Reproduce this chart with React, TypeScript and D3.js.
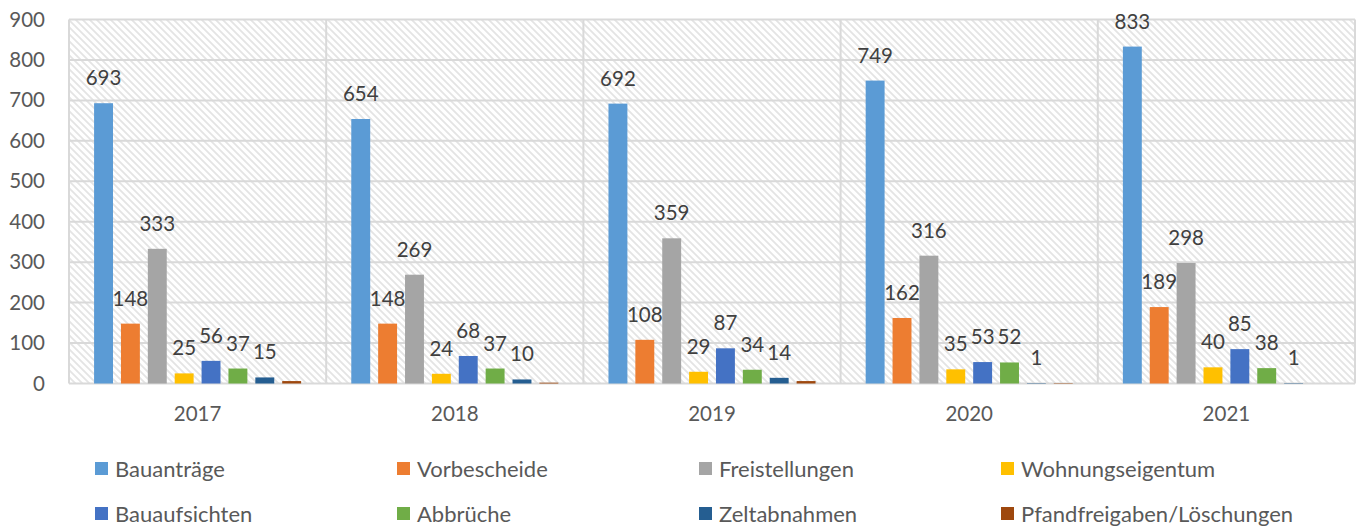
import React from "react";
import * as d3 from "d3";

const years = ["2017", "2018", "2019", "2020", "2021"];
const seriesNames = [
  "Bauanträge",
  "Vorbescheide",
  "Freistellungen",
  "Wohnungseigentum",
  "Bauaufsichten",
  "Abbrüche",
  "Zeltabnahmen",
  "Pfandfreigaben/Löschungen",
];
const bauantraege = [693, 654, 692, 749, 833];
const vorbescheide = [148, 148, 108, 162, 189];
const freistellungen = [333, 269, 359, 316, 298];
const wohnungseigentum = [25, 24, 29, 35, 40];
const bauaufsichten = [56, 68, 87, 53, 85];
const abbrueche = [37, 37, 34, 52, 38];
const zeltabnahmen = [15, 10, 14, 1, 1];
const pfandfreigaben = [6, 2, 6, 1, 0];
const yTicks = [0, 100, 200, 300, 400, 500, 600, 700, 800, 900];

const seriesValues = [
  bauantraege,
  vorbescheide,
  freistellungen,
  wohnungseigentum,
  bauaufsichten,
  abbrueche,
  zeltabnahmen,
  pfandfreigaben,
];
const showLabels = [true, true, true, true, true, true, true, false];
const colors = [
  "#5B9BD5",
  "#ED7D31",
  "#A5A5A5",
  "#FFC000",
  "#4472C4",
  "#70AD47",
  "#255E91",
  "#9E480E",
];

const W = 1362;
const H = 529;
const left = 69;
const right = 1355;
const top = 19.5;
const bottom = 383.5;
const FONT = "Lato, 'Open Sans', sans-serif";

export default function App() {
  const y = d3.scaleLinear().domain([0, 900]).range([bottom, top]);
  const x0 = d3
    .scaleBand<string>()
    .domain(years)
    .range([left, right])
    .paddingInner(0.195)
    .paddingOuter(0.0975);
  const x1 = d3
    .scaleBand<string>()
    .domain(seriesNames)
    .range([0, x0.bandwidth()])
    .paddingInner(0.296)
    .paddingOuter(0);
  const step = x0.step();
  const catLines = d3.range(years.length + 1).map((i) => left + i * step);

  return (
    <svg
      width={W}
      height={H}
      style={{ position: "absolute", left: 0, top: 0, display: "block", background: "#fff" }}
    >
      <defs>
        <pattern id="hatch" width="7" height="7" patternUnits="userSpaceOnUse">
          <rect width="7" height="7" fill="#ffffff" />
          <path d="M-2,-2 L9,9 M-2,5 L2,9 M5,-2 L9,2" stroke="#e4e4e4" strokeWidth="1.8" />
        </pattern>
      </defs>
      <rect x={left} y={top} width={right - left} height={bottom - top} fill="url(#hatch)" />
      {yTicks.map((t) => (
        <line key={"g" + t} x1={left} x2={right} y1={y(t)} y2={y(t)} stroke="#d9d9d9" strokeWidth={2} />
      ))}
      {catLines.map((cx, i) => (
        <line key={"v" + i} x1={cx} x2={cx} y1={top} y2={bottom} stroke="#d9d9d9" strokeWidth={2} />
      ))}
      {yTicks.map((t) => (
        <text
          key={"yt" + t}
          x={45}
          y={y(t) + 7}
          textAnchor="end"
          fontFamily={FONT}
          fontSize={20.5}
          fill="#595959"
        >
          {t}
        </text>
      ))}
      {years.map((yr) => (
        <text
          key={"xt" + yr}
          x={(x0(yr) ?? 0) + x0.bandwidth() / 2}
          y={421}
          textAnchor="middle"
          fontFamily={FONT}
          fontSize={20.5}
          fill="#595959"
        >
          {yr}
        </text>
      ))}
      {years.map((yr, yi) => (
        <g key={"grp" + yr} transform={`translate(${x0(yr)},0)`}>
          {seriesNames.map((s, si) => {
            const v = seriesValues[si][yi];
            const bx = x1(s) ?? 0;
            return (
              <rect
                key={s}
                x={bx}
                y={y(v)}
                width={x1.bandwidth()}
                height={bottom - y(v)}
                fill={colors[si]}
              />
            );
          })}
        </g>
      ))}
      {years.map((yr, yi) => (
        <g key={"lbl" + yr} transform={`translate(${x0(yr)},0)`}>
          {seriesNames.map((s, si) => {
            if (!showLabels[si]) return null;
            const v = seriesValues[si][yi];
            const bx = (x1(s) ?? 0) + x1.bandwidth() / 2;
            return (
              <text
                key={s}
                x={bx}
                y={y(v) - 18}
                textAnchor="middle"
                fontFamily={FONT}
                fontSize={20.5}
                fill="#404040"
              >
                {v}
              </text>
            );
          })}
        </g>
      ))}
      {seriesNames.map((s, si) => {
        const col = si % 4;
        const row = Math.floor(si / 4);
        const sx = 95 + col * 302;
        const cy = row === 0 ? 469 : 514;
        return (
          <g key={"leg" + s}>
            <rect x={sx} y={cy - 7} width={13} height={13} fill={colors[si]} />
            <text x={sx + 20} y={cy + 7.5} fontFamily={FONT} fontSize={22} fill="#595959">
              {s}
            </text>
          </g>
        );
      })}
    </svg>
  );
}
